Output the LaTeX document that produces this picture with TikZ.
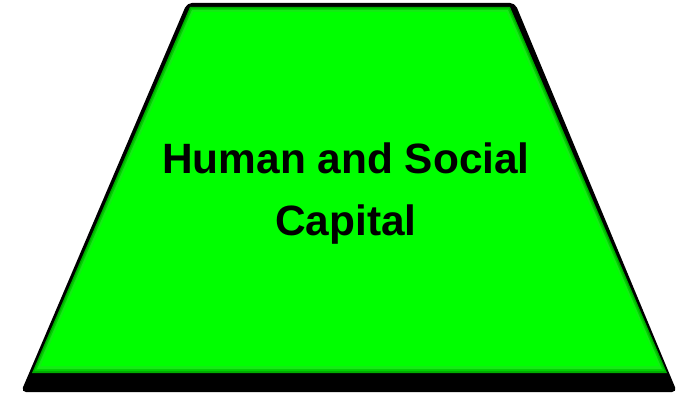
\documentclass[tikz,border=0pt]{standalone}
\usepackage{fontspec}
\setmainfont{Liberation Sans}
\definecolor{shapegreen}{RGB}{0,255,0}
\definecolor{bevelA}{RGB}{0,170,0}
\definecolor{bevelB}{RGB}{0,210,0}
\definecolor{bevelC}{RGB}{20,235,20}
\begin{document}
\begin{tikzpicture}[x=1pt,y=-1pt,
  shadowshape/.style={fill=black,rounded corners=5pt},
  label/.style={font=\bfseries\fontsize{42.4}{62}\selectfont,align=center,text=black}]
\useasboundingbox (0,0) rectangle (677,396);
% shadow
\fill[shadowshape] (187,3) -- (515,3) -- (677,392) -- (21,392) -- cycle;
% bevel layers
\fill[bevelA] (190,7) -- (510,7) -- (667,373) -- (32,373) -- cycle;
\fill[bevelB] (191,8.5) -- (509,8.5) -- (664.5,371) -- (34.5,371) -- cycle;
\fill[bevelC] (192,10) -- (508,10) -- (662,369) -- (37,369) -- cycle;
\fill[shapegreen] (193.5,12) -- (506.5,12) -- (659,366) -- (40.5,366) -- cycle;
\node[label] (t) at (346,194) {Human and Social\\Capital};
\end{tikzpicture}
\end{document}
